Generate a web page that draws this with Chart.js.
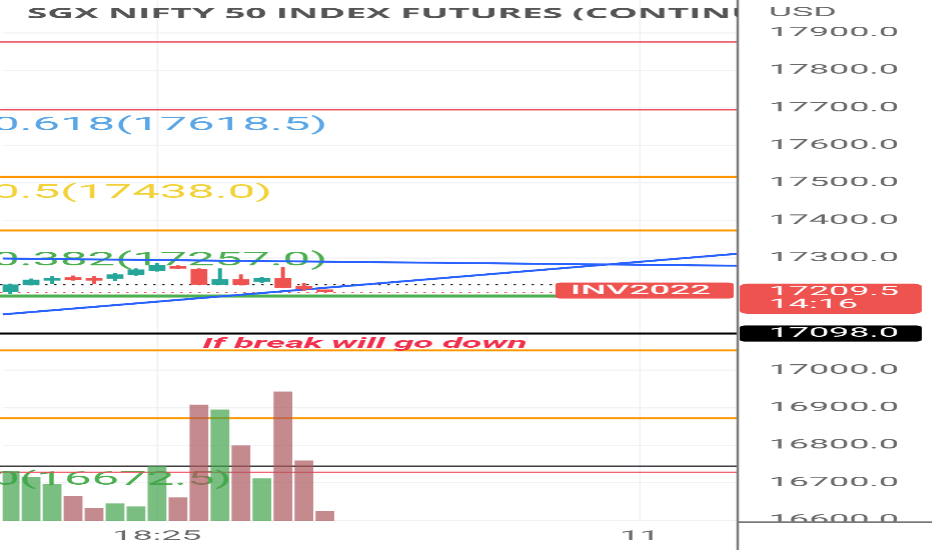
<!DOCTYPE html>
<html><head><meta charset="utf-8">
<script src="https://cdn.jsdelivr.net/npm/chart.js@4.4.1/dist/chart.umd.min.js"></script>
<style>
html,body{margin:0;padding:0;background:#fff;overflow:hidden;width:932px;height:550px}
#wrap{position:absolute;left:0;top:0;height:550px;transform-origin:0 0;}
#wrap canvas{display:block}
</style></head><body>
<div id="wrap"><canvas id="c"></canvas></div>
<script>
// ---- data ----
const candleIndex = [0,1,2,3,4,5,6,7,8,9,10,11,12,13,14,15];
const openP  = [17210,17228,17240,17247,17245,17245,17255,17266,17277,17269,17229,17242,17237,17245,17224,17213];
const highP  = [17230,17244,17250,17252,17250,17258,17271,17286,17279,17271,17271,17255,17248,17274,17232,17214];
const lowP   = [17205,17227,17231,17240,17231,17239,17253,17264,17271,17228,17228,17227,17234,17220,17213,17209];
const closeP = [17228,17241,17245,17242,17240,17255,17268,17280,17272,17229,17242,17229,17245,17221,17217,17209.5];
const volumes = [500,440,370,250,130,175,145,550,235,1165,1115,755,425,1295,605,100];

const priceTicks = [16600,16700,16800,16900,17000,17300,17400,17500,17600,17700,17800,17900];
const timeTickIndex = [7,30];
const timeTickLabels = ['18:25','11'];

const levelPrices = [17876,17695,17516,17373,17098,17053,16872,16744,16728];
const fibRatios = ['0.618','0.5','0.382','0'];
const fibLevels = [17618.5,17438.0,17257.0,16672.5];

const trendA = [17149,17311];   // price at left / right edge
const trendB = [17298,17279];
const invLinePrice = 17198;
const prevClose = 17229;
const lastPrice = 17209.5;
const lastTime = '14:16';
const markedPrice = 17098.0;
const titleText = 'SGX NIFTY 50 INDEX FUTURES (CONTINU';
const noteText = 'If break will go down';
const invText = 'INV2022';

// ---- styling / layout ----
const STRETCH = 2.65;
const W = 932, H = 550;
const dx = d => d / STRETCH;
const PLOT_RIGHT = 737;
const X_MIN = -0.356, X_MAX = 34.67;
const UP = '#26a69a', DOWN = '#ef5350';
const levelStyles = [
  {c:'#ef4a5a',w:1.3},{c:'#ef4a5a',w:1.3},{c:'#ff9800',w:2},{c:'#ff9800',w:2},
  {c:'#000000',w:2},{c:'#ff9800',w:2},{c:'#ff9800',w:2},{c:'#333333',w:1.3},{c:'#ef4a5a',w:1}
];
const fibColors = ['#5aa6e6','#f2d23a','#4caf50','#4caf50'];
const AXIS_FONT = {family:'Roboto', size:13.5};
const AXIS_COLOR = '#6a6a6a';

document.getElementById('wrap').style.width = (W/STRETCH) + 'px';
document.getElementById('wrap').style.transform = 'scaleX(' + STRETCH + ')';

const isUp = candleIndex.map(i => closeP[i] >= openP[i]);

const overlay = {
  id:'overlay',
  beforeDatasetsDraw(chart){
    const {ctx, chartArea:a, scales:{y}} = chart;
    ctx.save();
    ctx.beginPath(); ctx.rect(0, a.top, a.right, a.bottom-a.top); ctx.clip();
    // fib labels
    ctx.font = '18.5px Roboto'; ctx.textBaseline = 'middle'; ctx.textAlign = 'left';
    fibLevels.forEach((lv,i)=>{
      ctx.fillStyle = fibColors[i];
      ctx.fillText(fibRatios[i] + '(' + lv.toFixed(1) + ')', -dx(8), y.getPixelForValue(lv) - 13);
    });
    // horizontal levels
    levelPrices.forEach((p,i)=>{
      const yy = y.getPixelForValue(p);
      ctx.strokeStyle = levelStyles[i].c; ctx.lineWidth = levelStyles[i].w;
      ctx.beginPath(); ctx.moveTo(-2, yy); ctx.lineTo(a.right, yy); ctx.stroke();
    });
    // dotted lines
    ctx.setLineDash([dx(2.5), dx(6.5)]); ctx.lineWidth = 1.3;
    [[prevClose,'#222'],[lastPrice,'#ef5350']].forEach(([p,c])=>{
      const yy = Math.round(y.getPixelForValue(p)) + 0.5;
      ctx.strokeStyle = c; ctx.beginPath(); ctx.moveTo(0, yy); ctx.lineTo(a.right, yy); ctx.stroke();
    });
    ctx.setLineDash([]);
    // INV line
    const gy = y.getPixelForValue(invLinePrice);
    ctx.strokeStyle = '#4caf50'; ctx.lineWidth = 3;
    ctx.beginPath(); ctx.moveTo(-2, gy); ctx.lineTo(dx(556), gy); ctx.stroke();
    ctx.restore();
  },
  afterDatasetsDraw(chart){
    const {ctx, chartArea:a, scales:{x, y}} = chart;
    ctx.save();
    // note text
    ctx.font = 'italic bold 13.6px Roboto'; ctx.fillStyle = '#f0304c';
    ctx.textAlign = 'center'; ctx.textBaseline = 'middle';
    ctx.fillText(noteText, x.getPixelForValue(16.9), y.getPixelForValue(17069));
    // INV label
    const gy = y.getPixelForValue(invLinePrice);
    ctx.fillStyle = '#ef5350';
    ctx.beginPath(); ctx.roundRect(dx(555), gy - 13.5, dx(178), 16, 2); ctx.fill();
    ctx.fillStyle = '#fff'; ctx.font = '500 13.5px Roboto';
    ctx.fillText(invText, dx(640), gy - 5.3);
    // cover the right axis below the plot
    ctx.fillStyle = '#fff'; ctx.fillRect(a.right, a.bottom + 1, W, H);
    ctx.strokeStyle = '#7a7a7a'; ctx.lineWidth = 1.5;
    ctx.beginPath(); ctx.moveTo(a.right, a.bottom + 1); ctx.lineTo(chart.width, a.bottom + 1); ctx.stroke();
    // divider
    ctx.lineWidth = dx(2.5);
    ctx.beginPath(); ctx.moveTo(a.right, 0); ctx.lineTo(a.right, H); ctx.stroke();
    // price labels
    const ly = y.getPixelForValue(lastPrice);
    ctx.fillStyle = '#ef5350';
    ctx.beginPath(); ctx.roundRect(a.right + dx(2), ly - 8, dx(182), 30, 3); ctx.fill();
    const my = y.getPixelForValue(markedPrice);
    ctx.fillStyle = '#000';
    ctx.beginPath(); ctx.roundRect(a.right + dx(2), my - 8, dx(182), 16, 2); ctx.fill();
    ctx.fillStyle = '#fff'; ctx.textAlign = 'left'; ctx.font = '13.5px Roboto';
    ctx.fillText(lastPrice.toFixed(1), a.right + dx(31), ly);
    ctx.fillText(lastTime, a.right + dx(31), ly + 13);
    ctx.fillText(markedPrice.toFixed(1), a.right + dx(31), my);
    // USD
    ctx.fillStyle = AXIS_COLOR;
    ctx.fillText('USD', a.right + dx(31), 13);
    // title
    ctx.beginPath(); ctx.rect(0, 0, a.right, 40); ctx.clip();
    ctx.fillStyle = '#555'; ctx.font = 'bold 13.9px "Open Sans"';
    ctx.fillText(titleText, dx(27), 14);
    ctx.restore();
  }
};

new Chart(document.getElementById('c'), {
  data:{
    datasets:[
      { type:'bar', label:'body', order:1, grouped:false, yAxisID:'y',
        data: candleIndex.map(i=>({x:i, y:[openP[i], closeP[i]]})),
        backgroundColor: isUp.map(u=>u?UP:DOWN), barThickness: dx(15), minBarLength: 2 },
      { type:'bar', label:'wick', order:2, grouped:false, yAxisID:'y',
        data: candleIndex.map(i=>({x:i, y:[lowP[i], highP[i]]})),
        backgroundColor: isUp.map(u=>u?UP:DOWN), barThickness: dx(2.2) },
      { type:'line', label:'trendA', order:3, yAxisID:'y',
        data:[{x:X_MIN, y:trendA[0]},{x:X_MAX, y:trendA[1]}],
        borderColor:'#2962ff', borderWidth:2, pointRadius:0 },
      { type:'line', label:'trendB', order:3, yAxisID:'y',
        data:[{x:X_MIN, y:trendB[0]},{x:X_MAX, y:trendB[1]}],
        borderColor:'#2962ff', borderWidth:2, pointRadius:0 },
      { type:'bar', label:'volume', order:5, grouped:false, yAxisID:'yVol',
        data: candleIndex.map(i=>({x:i, y:volumes[i]})),
        backgroundColor: isUp.map(u=>u?'rgba(65,162,76,0.7)':'rgba(171,88,94,0.7)'), barThickness: dx(17) }
    ]
  },
  options:{
    responsive:true, maintainAspectRatio:false, animation:false,
    devicePixelRatio: STRETCH,
    layout:{padding:0},
    plugins:{legend:{display:false}, tooltip:{enabled:false}},
    scales:{
      x:{ type:'linear', min:X_MIN, max:X_MAX, position:'bottom', offset:false,
        afterBuildTicks: s => { s.ticks = timeTickIndex.map(v=>({value:v})); },
        afterFit: s => { s.height = H - 521; s.paddingLeft = 0; s.paddingRight = 0; },
        grid:{ color:'#eef0f4', lineWidth: dx(1.5), drawTicks:false, offset:false },
        border:{display:false},
        ticks:{ font:AXIS_FONT, color:AXIS_COLOR, padding:7, maxRotation:0, autoSkip:false,
          callback:(v,i)=>timeTickLabels[i] }
      },
      y:{ type:'linear', position:'right', min:16597.3, max:17985.2, offset:false,
        afterBuildTicks: s => { s.ticks = priceTicks.map(v=>({value:v})); },
        afterFit: s => { s.width = dx(W - PLOT_RIGHT); s.paddingTop = 0; s.paddingBottom = 0; },
        grid:{ color:'#f1f2f5', lineWidth:1, drawTicks:false },
        border:{display:false},
        ticks:{ font:AXIS_FONT, color:AXIS_COLOR, padding:dx(31), autoSkip:false,
          callback: v => Number(v).toFixed(1) }
      },
      yVol:{ type:'linear', display:false, min:0, max:5210 }
    }
  },
  plugins:[overlay]
});
</script>
</body></html>
